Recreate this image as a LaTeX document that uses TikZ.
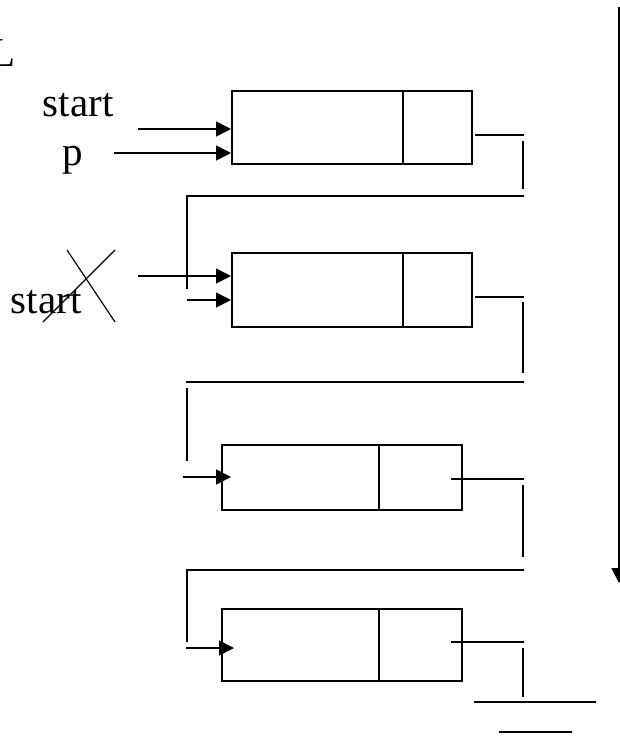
\documentclass[tikz,border=0pt]{standalone}
\usepackage{fontspec}
\setmainfont{Liberation Serif}
\usetikzlibrary{arrows.meta}
\begin{document}
\begin{tikzpicture}[x=1pt,y=-1pt,line width=1.6pt,
  cell/.style={draw,line width=1.6pt,rectangle,anchor=north west,inner sep=0pt,minimum width=240pt},
  lbl/.style={font=\fontsize{41}{41}\selectfont,inner sep=0pt,anchor=base west},
  ptr/.style={-{Triangle[length=15pt,width=15pt]}},
  wire/.style={line width=1.4pt}]
\useasboundingbox (0,0) rectangle (620,743);
% labels
\node[lbl] (L) at (-10,67) {L};
\node[lbl] (s1) at (42,117) {start};
\node[lbl] (p) at (62,166) {p};
\node[lbl] (s2) at (10,313) {start};
% boxes
\node[cell,minimum height=73pt] (b1) at (231,90) {};
\node[cell,minimum height=74pt] (b2) at (231,252) {};
\node[cell,minimum height=65pt] (b3) at (221,444) {};
\node[cell,minimum height=72pt] (b4) at (221,608) {};
\draw (403,90) -- (403,163);
\draw (403,252) -- (403,326);
\draw (379,444) -- (379,509);
\draw (379,608) -- (379,680);
% cross over start
\draw[line width=1.2pt] (67,250) -- (115,322);
\draw[line width=1.2pt] (43,322) -- (115,250);
% head pointers
\draw[ptr] (138,129) -- (b1.west |- 0,129);
\draw[ptr] (114,153) -- (b1.west |- 0,153);
\draw[ptr] (138,276) -- (b2.west |- 0,276);
% box1 -> box2
\draw[wire] (475,135) -- (524,135);
\draw[wire] (523,141) -- (523,189);
\draw[wire] (524,196) -- (187,196) -- (187,289);
\draw[ptr] (187,300) -- (b2.west |- 0,300);
% box2 -> box3
\draw[wire] (475,297) -- (524,297);
\draw[wire] (523,302) -- (523,373);
\draw[wire] (524,382) -- (186,382);
\draw[wire] (187,388) -- (187,461);
\draw[ptr] (183,477) -- (231,477);
% box3 -> box4
\draw[wire] (451,479) -- (524,479);
\draw[wire] (523,485) -- (523,557);
\draw[wire] (524,570) -- (187,570) -- (187,642);
\draw[ptr] (186,648) -- (234,648);
% box4 -> null
\draw[wire] (451,642) -- (524,642);
\draw[wire] (523,648) -- (523,697);
\draw[wire] (474,702) -- (596,702);
\draw[wire] (499,732) -- (572,732);
% traversal arrow
\draw[ptr] (619,7) -- (619,583);
\end{tikzpicture}
\end{document}
